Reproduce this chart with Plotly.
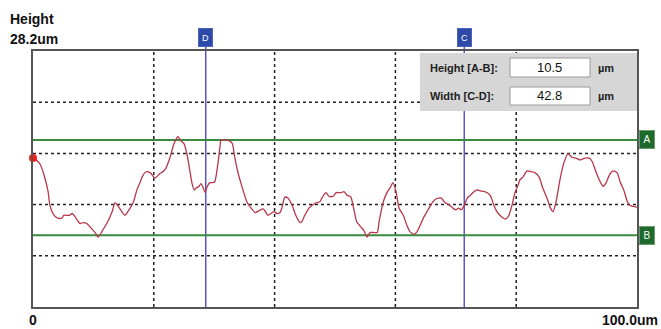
import plotly.graph_objects as go

# ---- data (um) ----
profile_x = [0.0, 0.7, 1.2, 1.8, 2.5, 2.8, 3.5, 4.1, 4.8, 5.1, 6.0, 6.5, 7.0, 7.5, 7.8, 8.3, 8.9, 9.6,
             10.3, 10.8, 11.4, 12.3, 13.1, 13.6, 14.2, 15.2, 15.7, 16.6, 17.2, 17.7, 18.2, 18.7, 19.4,
             20.2, 21.0, 21.5, 22.0, 22.7, 23.3, 23.8, 24.0, 24.5, 25.0, 25.5, 26.0, 26.3, 26.7, 27.0,
             27.5, 27.8, 28.2, 28.5, 28.8, 29.3, 29.8, 30.1, 30.6, 31.0, 31.1, 31.8, 32.5, 33.0, 33.4,
             33.9, 34.4, 34.9, 35.4, 36.1, 36.8, 37.4, 38.1, 38.4, 38.9, 39.4, 39.9, 40.4, 40.9, 41.2,
             41.7, 42.2, 42.9, 43.5, 44.2, 44.5, 45.0, 45.7, 46.4, 47.0, 47.5, 48.0, 48.5, 49.0, 49.7,
             50.2, 50.7, 51.0, 51.5, 52.0, 52.5, 52.7, 53.2, 53.6, 54.3, 54.8, 55.3, 55.8, 56.5, 57.0,
             57.3, 58.0, 58.6, 59.1, 59.6, 60.1, 60.6, 61.3, 61.9, 62.4, 63.1, 63.6, 64.1, 64.7, 65.4,
             66.1, 66.7, 67.6, 68.2, 69.0, 69.5, 70.0, 70.5, 70.9, 71.4, 71.9, 72.4, 72.7, 73.0, 73.5,
             74.0, 74.8, 75.7, 76.3, 76.8, 77.3, 77.8, 78.3, 78.8, 79.3, 79.8, 80.3, 80.6, 81.1, 81.8,
             82.5, 83.1, 83.8, 84.4, 85.1, 85.6, 86.1, 86.6, 87.3, 87.9, 88.6, 89.2, 89.9, 90.6, 91.4,
             92.1, 92.6, 93.2, 93.9, 94.4, 94.9, 95.4, 96.0, 96.7, 97.2, 97.9, 98.3, 98.8, 100.0]
profile_y = [16.4, 16.1, 15.7, 14.6, 12.7, 11.2, 10.1, 9.8, 9.8, 10.1, 10.1, 10.3, 9.9, 9.4, 9.2, 9.3,
             9.2, 8.7, 8.2, 7.7, 8.3, 9.3, 10.5, 11.5, 11.0, 10.1, 10.5, 11.5, 12.9, 13.7, 14.5, 14.9,
             14.8, 14.2, 14.7, 14.9, 15.3, 16.5, 17.9, 18.6, 18.8, 18.3, 18.0, 16.8, 14.9, 13.7, 12.9,
             13.1, 13.3, 13.6, 13.1, 12.6, 13.2, 13.7, 13.7, 13.8, 15.7, 17.9, 18.4, 18.4, 18.3, 18.0,
             16.5, 14.9, 13.7, 12.6, 11.6, 10.9, 10.4, 10.6, 10.8, 10.6, 10.1, 10.3, 10.5, 10.3, 10.4,
             10.9, 12.1, 12.0, 11.2, 10.1, 9.3, 9.4, 10.1, 10.9, 11.3, 11.5, 11.6, 12.2, 12.6, 12.2,
             12.2, 12.6, 12.6, 12.6, 12.7, 12.3, 12.2, 12.0, 10.5, 9.4, 8.8, 8.4, 7.7, 8.2, 8.2, 8.2,
             9.4, 11.6, 12.6, 13.1, 13.7, 12.7, 10.9, 10.1, 9.0, 8.3, 8.0, 8.3, 9.0, 9.9, 10.7, 11.5,
             11.9, 12.0, 11.5, 11.2, 10.9, 10.7, 10.9, 10.7, 11.2, 12.0, 12.3, 12.5, 12.7, 12.9, 12.8,
             12.7, 12.3, 11.2, 10.5, 10.1, 9.8, 9.7, 10.1, 11.2, 12.6, 13.4, 14.0, 14.3, 15.0, 14.9,
             14.8, 14.3, 13.1, 12.0, 11.0, 10.5, 11.6, 14.2, 15.9, 16.9, 16.5, 16.4, 16.2, 16.4, 16.4,
             16.0, 14.9, 13.8, 13.3, 13.7, 14.5, 15.0, 14.8, 13.8, 12.7, 11.8, 11.2, 11.0]

Y_MAX = 28.2
X_MAX = 100.0
LEVEL_A = 18.4
LEVEL_B = 7.9
CURSOR_D = 28.6
CURSOR_C = 71.4
grid_x = [20, 40, 60, 80]
grid_y = [5.64, 11.28, 16.92, 22.56]

height_ab = LEVEL_A - LEVEL_B
width_cd = CURSOR_C - CURSOR_D

# ---- figure ----
W, H = 661, 329
L, R, T, B = 33, 24, 51, 22
PW, PH = W - L - R, H - T - B


def px(xp):
    return (xp - L) / PW


def py(yp):
    return (H - B - yp) / PH


LABEL_FONT = "Liberation Sans, Arial, sans-serif"
PANEL_FONT = "Liberation Sans, Arial, sans-serif"

fig = go.Figure()

shapes = []
for gx in grid_x:
    shapes.append(dict(type="line", xref="x", yref="y", x0=gx, x1=gx, y0=0, y1=Y_MAX,
                       line=dict(color="#222", width=1.5, dash="dot"), layer="below"))
for gy in grid_y:
    shapes.append(dict(type="line", xref="x", yref="y", x0=0, x1=X_MAX, y0=gy, y1=gy,
                       line=dict(color="#222", width=1.5, dash="dot"), layer="below"))
for lv in (LEVEL_A, LEVEL_B):
    shapes.append(dict(type="line", xref="x", yref="y", x0=0, x1=X_MAX, y0=lv, y1=lv,
                       line=dict(color="#3a8a3e", width=2), layer="below"))
for cx in (CURSOR_D, CURSOR_C):
    shapes.append(dict(type="line", xref="x", yref="paper", x0=cx, x1=cx, y0=0, y1=py(45),
                       line=dict(color="#5a55c8", width=1.5), layer="below"))

# info panel
shapes.append(dict(type="rect", xref="paper", yref="paper", x0=px(420), x1=px(637),
                   y0=py(111), y1=py(53), fillcolor="#d6d6d6", line=dict(width=0), layer="above"))
for (y0p, y1p) in ((58, 77), (87, 105)):
    shapes.append(dict(type="rect", xref="paper", yref="paper", x0=px(510), x1=px(590),
                       y0=py(y1p), y1=py(y0p), fillcolor="white",
                       line=dict(color="#9a9a9a", width=1), layer="above"))

fig.add_trace(go.Scatter(x=profile_x, y=profile_y, mode="lines",
                         line=dict(color="#b8374a", width=1.3, shape="spline", smoothing=0.6),
                         hoverinfo="skip", showlegend=False))
fig.add_trace(go.Scatter(x=[profile_x[0]], y=[profile_y[0]], mode="markers",
                         marker=dict(color="#ff1a1a", size=8), cliponaxis=False,
                         showlegend=False, hoverinfo="skip"))

annotations = [
    dict(text="<b>Height</b>", xref="paper", yref="paper", x=px(8), y=py(19), xanchor="left",
         yanchor="middle", showarrow=False, font=dict(family=LABEL_FONT, size=14, color="#111")),
    dict(text=f"<b>{Y_MAX:.1f}um</b>", xref="paper", yref="paper", x=px(8), y=py(39),
         xanchor="left", yanchor="middle", showarrow=False,
         font=dict(family=LABEL_FONT, size=14, color="#111")),
    dict(text="<b>0</b>", xref="x", yref="paper", x=0, y=py(320), xanchor="center",
         yanchor="middle", showarrow=False, font=dict(family=LABEL_FONT, size=14, color="#111")),
    dict(text=f"<b>{X_MAX:.1f}um</b>", xref="paper", yref="paper", x=px(660), y=py(320),
         xanchor="right", yanchor="middle", showarrow=False,
         font=dict(family=LABEL_FONT, size=14, color="#111")),
    dict(text="<b>Height [A-B]:</b>", xref="paper", yref="paper", x=px(428), y=py(68),
         xanchor="left", yanchor="middle", showarrow=False,
         font=dict(family=PANEL_FONT, size=11, color="#222")),
    dict(text="<b>Width [C-D]:</b>", xref="paper", yref="paper", x=px(428), y=py(96),
         xanchor="left", yanchor="middle", showarrow=False,
         font=dict(family=PANEL_FONT, size=11, color="#222")),
    dict(text=f"{height_ab:.1f}", xref="paper", yref="paper", x=px(549), y=py(67),
         xanchor="center", yanchor="middle", showarrow=False,
         font=dict(family=PANEL_FONT, size=13, color="#111")),
    dict(text=f"{width_cd:.1f}", xref="paper", yref="paper", x=px(549), y=py(95),
         xanchor="center", yanchor="middle", showarrow=False,
         font=dict(family=PANEL_FONT, size=13, color="#111")),
    dict(text="<b>µm</b>", xref="paper", yref="paper", x=px(596), y=py(68),
         xanchor="left", yanchor="middle", showarrow=False,
         font=dict(family=PANEL_FONT, size=11, color="#222")),
    dict(text="<b>µm</b>", xref="paper", yref="paper", x=px(596), y=py(96),
         xanchor="left", yanchor="middle", showarrow=False,
         font=dict(family=PANEL_FONT, size=11, color="#222")),
]
for name, lv in (("A", LEVEL_A), ("B", LEVEL_B)):
    annotations.append(dict(text=name, xref="paper", yref="y", x=px(639), y=lv, xanchor="left",
                            yanchor="middle", showarrow=False, bgcolor="#1d6a2c",
                            bordercolor="#6a9a6e", borderwidth=1, borderpad=1, width=12,
                            height=15, font=dict(family=PANEL_FONT, size=10, color="white")))
for name, cx in (("D", CURSOR_D), ("C", CURSOR_C)):
    annotations.append(dict(text=name, xref="x", yref="paper", x=cx, y=py(37), xanchor="center",
                            yanchor="middle", showarrow=False, bgcolor="#2d4aa8",
                            bordercolor="#4a64bb", borderwidth=1, borderpad=1, width=11,
                            height=15, font=dict(family=PANEL_FONT, size=9, color="white")))

fig.update_layout(
    width=W, height=H,
    margin=dict(l=L, r=R, t=T, b=B, pad=0),
    paper_bgcolor="white", plot_bgcolor="white",
    xaxis=dict(range=[0, X_MAX], showgrid=False, zeroline=False, showticklabels=False,
               ticks="", showline=True, mirror=True, linecolor="#555", linewidth=2,
               fixedrange=True),
    yaxis=dict(range=[0, Y_MAX], showgrid=False, zeroline=False, showticklabels=False,
               ticks="", showline=True, mirror=True, linecolor="#555", linewidth=2,
               fixedrange=True),
    shapes=shapes,
    annotations=annotations,
    showlegend=False,
)

fig.write_html("out.html", config={"displayModeBar": False})
